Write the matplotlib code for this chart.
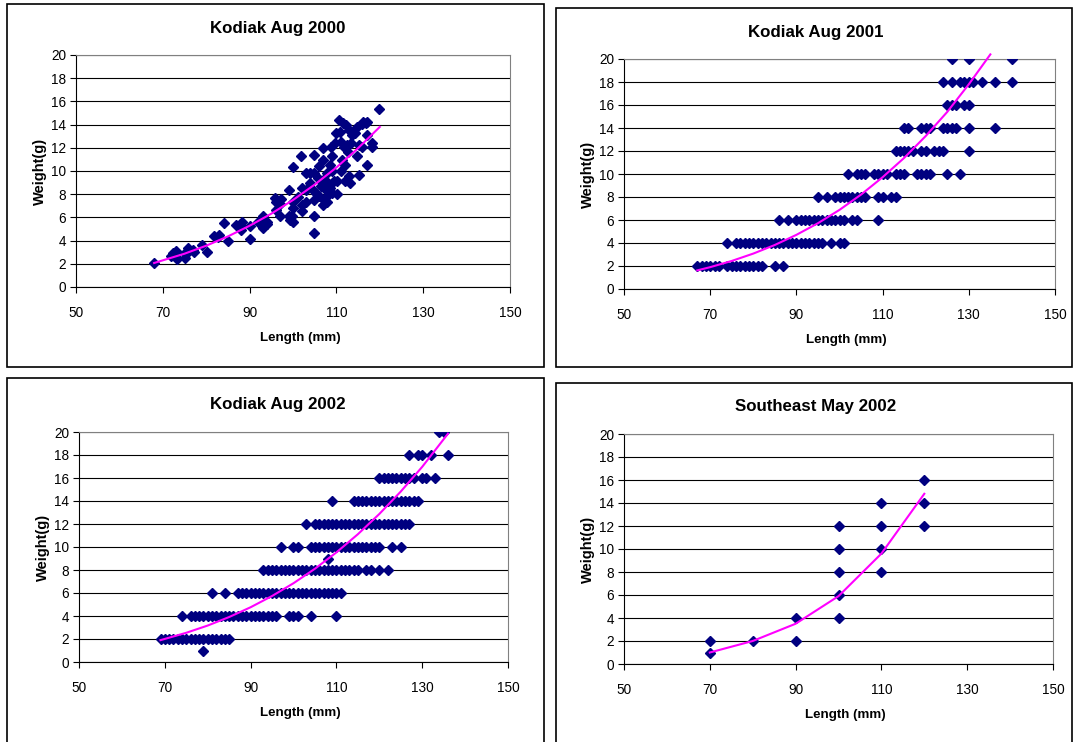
import numpy as np
import matplotlib.pyplot as plt
from matplotlib.patches import Rectangle

plt.rcParams['font.family'] = ['Liberation Sans', 'DejaVu Sans']

W, H = 1075, 742

# ---- Kodiak Aug 2000 (scattered points)
k00_len = [68, 71.8, 72.3, 73, 73, 73.2, 75.1, 75.1, 75.9, 76.1, 77, 77.3, 79, 80.1,
           81.9, 82.8, 83, 84, 85.1, 86.9, 87.8, 88, 88.2, 90.1, 90.1, 91.9, 93, 93,
           93.4, 93.9, 93.9, 95.9, 96.1, 96.1, 96.9, 97, 97.2, 99, 99, 99.3, 99.7,
           99.9, 99.9, 99.9, 100.1, 101.1, 101.8, 102, 102, 102, 103, 103, 103.1,
           103.9, 103.9, 104.7, 104.8, 104.8, 104.8, 104.8, 104.8, 105.3, 105.8,
           106.1, 106.1, 106.4, 106.8, 106.8, 106.8, 107, 107.1, 107.6, 107.8, 107.9,
           108.1, 108.1, 108.5, 108.5, 108.8, 108.9, 108.9, 109.1, 109.5, 109.7,
           109.9, 110.1, 110.2, 110.7, 110.8, 111, 111, 111.2, 111.6, 111.8, 112,
           112, 112.2, 112.4, 112.7, 113, 113, 113.1, 113.3, 113.7, 114.3, 114.8,
           114.8, 115.1, 115.1, 115.8, 116, 116.2, 116.8, 117, 117, 117.1, 118.1,
           118.1, 119.9]
k00_wt = [2.07, 2.7, 2.9, 2.6, 3.07, 2.4, 2.5, 2.9, 3.4, 3.07, 3.2, 3.0, 3.6, 3.0,
          4.36, 4.3, 4.45, 5.5, 4.0, 5.37, 5.34, 4.94, 5.57, 5.28, 4.13, 5.62, 6.14,
          5.05, 5.34, 5.57, 5.4, 7.66, 7.37, 6.66, 7.17, 6.08, 7.57, 8.38, 6.08, 5.8,
          6.14, 10.33, 7.37, 6.8, 5.57, 7.8, 11.25, 8.52, 7.09, 6.51, 9.81, 8.38,
          7.37, 9.81, 8.95, 8.38, 11.39, 9.81, 7.52, 6.08, 4.65, 8.09, 9.38, 10.39,
          7.86, 8.67, 12.02, 10.96, 7.09, 9.24, 7.52, 8.38, 9.81, 7.37, 8.95, 7.95,
          10.53, 8.52, 12.11, 11.25, 8.09, 10.04, 9.1, 12.4, 13.26, 8.0, 9.1, 14.4,
          13.4, 12.54, 9.96, 10.96, 14.12, 12.11, 10.53, 9.1, 13.97, 12.25, 11.68,
          13.54, 9.53, 9.0, 12.4, 13.11, 13.26, 13.83, 11.25, 9.67, 12.25, 14.06,
          12.11, 14.26, 14.12, 13.11, 10.53, 14.26, 12.4, 12.11, 15.32]
k00_trend_x = [68, 75, 80, 85, 90, 95, 100, 105, 110, 115, 120]
k00_trend_y = [2.07, 2.87, 3.56, 4.36, 5.28, 6.32, 7.5, 8.83, 10.3, 11.97, 13.8]

# ---- Kodiak Aug 2001 (lengths at each weight class)
k01_rows = {
    2: [67, 68, 69, 70, 71, 72, 74, 75, 76, 77, 78, 79, 80, 81, 82, 85, 87],
    4: [74, 76, 77, 78, 79, 80, 81, 82, 83, 84, 85, 86, 87, 88, 89, 90, 91, 92, 93,
        94, 95, 96, 98, 100, 101],
    6: [86, 88, 90, 91, 92, 93, 94, 95, 96, 97, 98, 99, 100, 101, 103, 104, 109],
    8: [95, 97, 99, 100, 101, 102, 103, 104, 105, 106, 109, 110, 112, 113],
    10: [102, 104, 105, 106, 108, 109, 110, 111, 113, 114, 115, 118, 119, 120, 121,
         125, 128],
    12: [113, 114, 115, 116, 117, 119, 120, 122, 123, 124, 130],
    14: [115, 116, 119, 120, 121, 124, 125, 126, 127, 130, 136],
    16: [125, 126, 127, 129, 130],
    18: [124, 126, 128, 129, 130, 131, 133, 136, 140],
    20: [126, 130, 140],
}
k01_trend_x = [67, 70, 75, 80, 85, 90, 95, 100, 105, 110, 115, 120, 125, 130, 135]
k01_trend_y = [1.62, 1.9, 2.44, 3.08, 3.83, 4.71, 5.72, 6.88, 8.21, 9.72, 11.4,
               13.3, 15.4, 17.8, 20.4]

# ---- Kodiak Aug 2002
k02_rows = {
    1: [79],
    2: [69, 70, 71, 72, 73, 74, 75, 76, 77, 78, 79, 80, 81, 82, 83, 84, 85],
    4: [74, 76, 77, 78, 79, 80, 81, 82, 83, 84, 85, 86, 87, 88, 89, 90, 91, 92, 93,
        94, 95, 96, 99, 100, 101, 104, 110],
    6: [81, 84, 87, 88, 89, 90, 91, 92, 93, 94, 95, 96, 97, 98, 99, 100, 101, 102,
        103, 104, 105, 106, 107, 108, 109, 110, 111],
    8: [93, 94, 95, 96, 97, 98, 99, 100, 101, 102, 103, 104, 105, 106, 107, 108,
        109, 110, 111, 112, 113, 114, 115, 117, 118, 120, 122],
    9: [108],
    10: [97, 100, 101, 104, 105, 106, 107, 108, 109, 110, 111, 112, 113, 114, 115,
         116, 117, 118, 119, 120, 123, 125],
    12: [103, 105, 106, 107, 108, 109, 110, 111, 112, 113, 114, 115, 116, 117, 118,
         119, 120, 121, 122, 123, 124, 125, 126, 127],
    14: [109, 114, 115, 116, 117, 118, 119, 120, 121, 122, 123, 124, 125, 126, 127,
         128, 129],
    16: [120, 121, 122, 123, 124, 125, 126, 127, 128, 130, 131, 133],
    18: [127, 129, 130, 132, 136],
    20: [134, 135],
}
k02_trend_x = [69, 75, 80, 85, 90, 95, 100, 105, 110, 115, 120, 125, 130, 136]
k02_trend_y = [1.9, 2.54, 3.17, 3.91, 4.76, 5.74, 6.85, 8.11, 9.53, 11.11, 12.87,
               14.82, 16.97, 19.85]

# ---- Southeast May 2002
se_len = [70, 70, 80, 90, 90, 100, 100, 100, 100, 100, 110, 110, 110, 110, 120, 120, 120]
se_wt = [1, 2, 2, 2, 4, 4, 6, 8, 10, 12, 8, 10, 12, 14, 12, 14, 16]
se_trend_x = [70, 80, 90, 100, 110, 120]
se_trend_y = [1.0, 2.0, 3.5, 5.9, 9.6, 14.8]


def rows_to_xy(rows):
    xs, ys = [], []
    for w, lens in rows.items():
        xs += lens
        ys += [w] * len(lens)
    return xs, ys


k01_len, k01_wt = rows_to_xy(k01_rows)
k02_len, k02_wt = rows_to_xy(k02_rows)

panels = [
    # title, x, y, trend x, trend y, plot box (l, t, r, b), frame (l, t, r, b)
    ("Kodiak Aug 2000", k00_len, k00_wt, k00_trend_x, k00_trend_y,
     (76, 55, 510, 287), (7, 4, 544, 367)),
    ("Kodiak Aug 2001", k01_len, k01_wt, k01_trend_x, k01_trend_y,
     (624, 59, 1055, 289), (556, 8, 1072, 367)),
    ("Kodiak Aug 2002", k02_len, k02_wt, k02_trend_x, k02_trend_y,
     (79, 432, 508, 662), (7, 378, 544, 745)),
    ("Southeast May 2002", se_len, se_wt, se_trend_x, se_trend_y,
     (624, 434, 1053, 664), (556, 383, 1072, 745)),
]

fig = plt.figure(figsize=(W / 100, H / 100), dpi=100)

for title, xs, ys, tx, ty, box, frame in panels:
    l, t, r, b = box
    fl, ft, fr, fb = frame
    ax = fig.add_axes([l / W, 1 - b / H, (r - l) / W, (b - t) / H])
    ax.plot(xs, ys, linestyle='none', marker='D', markersize=4.8,
            color='#000080', zorder=3)
    ax.plot(tx, ty, color='#FF00FF', lw=1.5, zorder=4, clip_on=False)
    ax.set_xlim(50, 150)
    ax.set_ylim(0, 20)
    ax.set_xticks([50, 70, 90, 110, 130, 150])
    ax.set_yticks(range(0, 21, 2))
    ax.yaxis.grid(True, color='black', lw=0.8)
    ax.set_axisbelow(True)
    ax.tick_params(axis='both', direction='out', length=4, width=0.8,
                   labelsize=9.8, color='black')
    ax.tick_params(axis='x', pad=10)
    ax.tick_params(axis='y', pad=3)
    for s in ['top', 'right']:
        ax.spines[s].set_color('#808080')
    for s in ['left', 'bottom']:
        ax.spines[s].set_color('black')
    for s in ax.spines.values():
        s.set_linewidth(0.8)

    # title sits on the chart frame centre, axis title a bit right of plot centre
    fig.text(((fl + fr) / 2 + 2) / W, 1 - (t - 27) / H, title, ha='center',
             va='center', fontsize=12.2, fontweight='bold')
    fig.text(((l + r) / 2 + 7) / W, 1 - (b + 51) / H, "Length (mm)", ha='center',
             va='center', fontsize=9.6, fontweight='bold')
    fig.text((l - 36) / W, 1 - ((t + b) / 2) / H, "Weight(g)", ha='center',
             va='center', rotation=90, fontsize=10.5, fontweight='bold')

    fig.add_artist(Rectangle((fl / W, 1 - fb / H), (fr - fl) / W, (fb - ft) / H,
                             transform=fig.transFigure, fill=False,
                             edgecolor='black', lw=1.2))

fig.savefig("out.png", dpi=100)
